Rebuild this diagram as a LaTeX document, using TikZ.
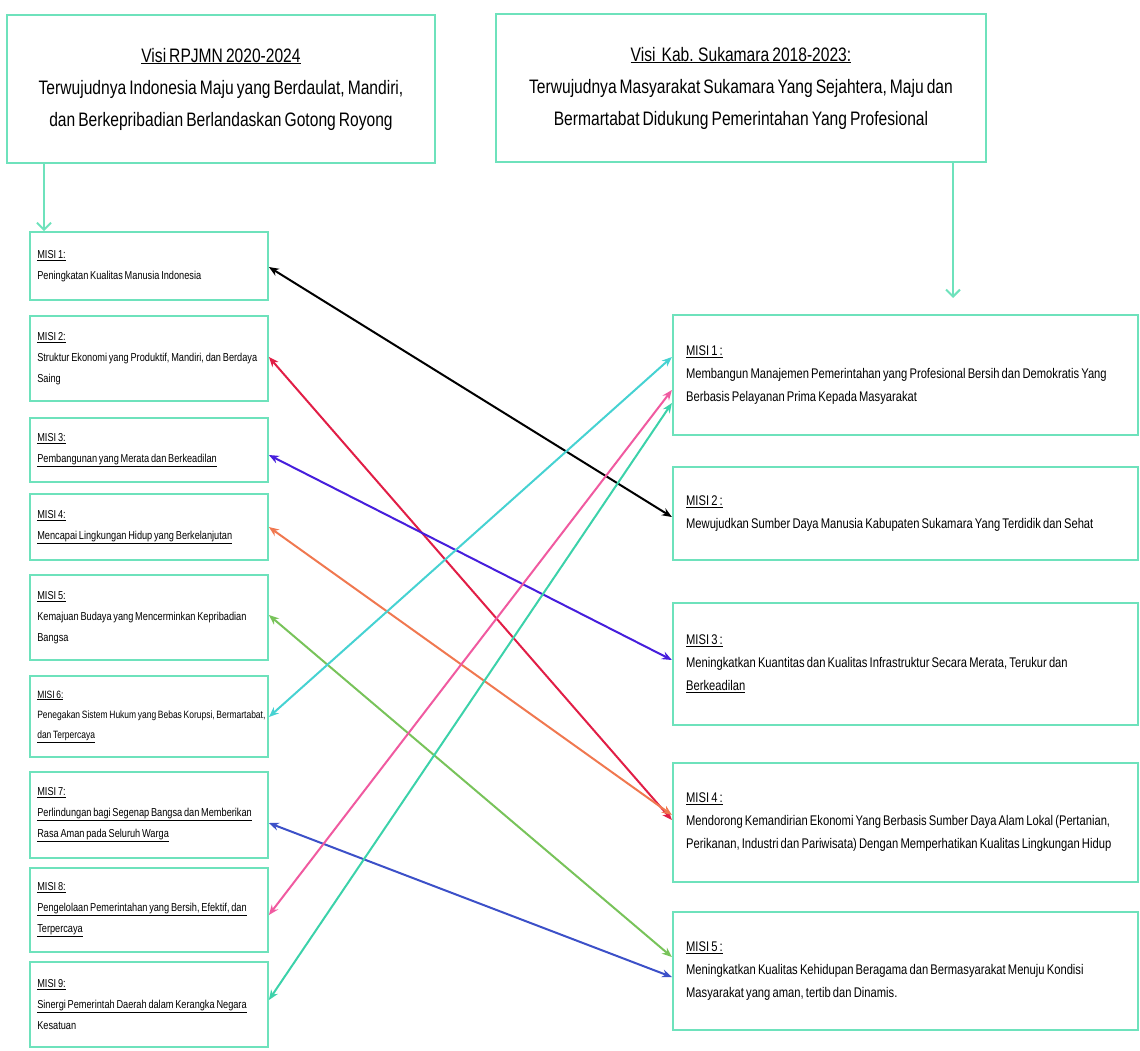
\documentclass[tikz,border=0pt]{standalone}
\usepackage{fontspec}
\setmainfont[FakeStretch=0.8, WordSpace=0.7]{Liberation Sans}
\usetikzlibrary{arrows.meta}

\definecolor{mint}{RGB}{110,226,188}
\definecolor{cRed}{RGB}{225,30,70}
\definecolor{cViolet}{RGB}{70,30,220}
\definecolor{cOrange}{RGB}{240,120,80}
\definecolor{cGreen}{RGB}{120,195,90}
\definecolor{cCyan}{RGB}{70,210,210}
\definecolor{cBlue}{RGB}{60,80,200}
\definecolor{cPink}{RGB}{240,90,160}
\definecolor{cTeal}{RGB}{60,210,170}

\tikzset{
  visibox/.style={draw=mint, line width=2.5pt, fill=white, align=center,
    minimum width=#1, minimum height=148pt,
    font=\fontsize{19.5}{32}\selectfont},
  leftbox/.style={draw=mint, line width=1.8pt, fill=white,
    minimum width=238pt, minimum height=#1},
  rightbox/.style={draw=mint, line width=2.2pt, fill=white,
    minimum width=465pt, minimum height=#1},
  lefttext/.style={anchor=west, align=left, inner sep=0pt, xshift=8pt,
    font=\fontsize{11.5}{21}\selectfont},
  righttext/.style={anchor=west, align=left, inner sep=0pt, xshift=14pt,
    font=\fontsize{14}{23}\selectfont},
  link/.style={{Stealth[length=10pt,width=8pt]}-{Stealth[length=10pt,width=8pt]},
    line width=2pt},
  feed/.style={-{Straight Barb[length=7pt,width=14pt]}, draw=mint, line width=2pt}
}

\begin{document}
\begin{tikzpicture}[x=1pt, y=-1pt]
\useasboundingbox (0,0) rectangle (1140,1050);

% vision boxes
\node[visibox=428pt] (TL) at (221,89)
  {\underline{Visi RPJMN 2020-2024}\\
   Terwujudnya Indonesia Maju yang Berdaulat, Mandiri,\\
   dan Berkepribadian Berlandaskan Gotong Royong};
\node[visibox=490pt] (TR) at (741,88)
  {\underline{Visi\ \ Kab. Sukamara 2018-2023:}\\
   Terwujudnya Masyarakat Sukamara Yang Sejahtera, Maju dan\\
   Bermartabat Didukung Pemerintahan Yang Profesional};

% national mission boxes
\node[leftbox=68pt] (L1) at (149,266) {};
\node[leftbox=85pt] (L2) at (149,358.5) {};
\node[leftbox=64pt] (L3) at (149,450) {};
\node[leftbox=66pt] (L4) at (149,527) {};
\node[leftbox=85pt] (L5) at (149,617.5) {};
\node[leftbox=81pt] (L6) at (149,716.5) {};
\node[leftbox=86pt] (L7) at (149,815) {};
\node[leftbox=84pt] (L8) at (149,910) {};
\node[leftbox=85pt] (L9) at (149,1004.5) {};

\node[lefttext] (L1t) at (L1.west)
  {\underline{MISI 1:}\\Peningkatan Kualitas Manusia Indonesia};
\node[lefttext] (L2t) at (L2.west)
  {\underline{MISI 2:}\\Struktur Ekonomi yang Produktif, Mandiri, dan Berdaya\\Saing};
\node[lefttext] (L3t) at (L3.west)
  {\underline{MISI 3:}\\\underline{Pembangunan yang Merata dan Berkeadilan}};
\node[lefttext] (L4t) at (L4.west)
  {\underline{MISI 4:}\\\underline{Mencapai Lingkungan Hidup yang Berkelanjutan}};
\node[lefttext] (L5t) at (L5.west)
  {\underline{MISI 5:}\\Kemajuan Budaya yang Mencerminkan Kepribadian\\Bangsa};
\node[lefttext, font=\fontsize{10.6}{20}\selectfont] (L6t) at (L6.west)
  {\underline{MISI 6:}\\Penegakan Sistem Hukum yang Bebas Korupsi, Bermartabat,\\\underline{dan Terpercaya}};
\node[lefttext] (L7t) at (L7.west)
  {\underline{MISI 7:}\\\underline{Perlindungan bagi Segenap Bangsa dan Memberikan}\\\underline{Rasa Aman pada Seluruh Warga}};
\node[lefttext] (L8t) at (L8.west)
  {\underline{MISI 8:}\\\underline{Pengelolaan Pemerintahan yang Bersih, Efektif, dan}\\\underline{Terpercaya}};
\node[lefttext] (L9t) at (L9.west)
  {\underline{MISI 9:}\\\underline{Sinergi Pemerintah Daerah dalam Kerangka Negara}\\Kesatuan};

% regency mission boxes
\node[rightbox=120pt] (R1) at (905.5,375) {};
\node[rightbox=93pt] (R2) at (905.5,513.5) {};
\node[rightbox=122pt] (R3) at (905.5,664) {};
\node[rightbox=119pt] (R4) at (905.5,822.5) {};
\node[rightbox=118pt] (R5) at (905.5,971) {};

\node[righttext] (R1t) at (R1.west)
  {\underline{MISI 1 :}\\Membangun Manajemen Pemerintahan yang Profesional Bersih dan Demokratis Yang\\Berbasis Pelayanan Prima Kepada Masyarakat};
\node[righttext] (R2t) at (R2.west)
  {\underline{MISI 2 :}\\Mewujudkan Sumber Daya Manusia Kabupaten Sukamara Yang Terdidik dan Sehat};
\node[righttext] (R3t) at (R3.west)
  {\underline{MISI 3 :}\\Meningkatkan Kuantitas dan Kualitas Infrastruktur Secara Merata, Terukur dan\\\underline{Berkeadilan}};
\node[righttext] (R4t) at (R4.west)
  {\underline{MISI 4 :}\\Mendorong Kemandirian Ekonomi Yang Berbasis Sumber Daya Alam Lokal (Pertanian,\\Perikanan, Industri dan Pariwisata) Dengan Memperhatikan Kualitas Lingkungan Hidup};
\node[righttext] (R5t) at (R5.west)
  {\underline{MISI 5 :}\\Meningkatkan Kualitas Kehidupan Beragama dan Bermasyarakat Menuju Kondisi\\Masyarakat yang aman, tertib dan Dinamis.};

% vision-to-mission feeds
\draw[feed] ([xshift=-177pt]TL.south) -- ([xshift=-177pt]TL.south |- L1.north);
\coordinate (Rtip) at (953,298);
\draw[feed] ([xshift=212pt]TR.south) -- (Rtip);

% mission links
\draw[link, color=black]   ([yshift=-1pt]L1.east)   -- ([yshift=-3.5pt]R2.west);
\draw[link, color=cRed]    ([yshift=1.5pt]L2.east)  -- ([yshift=2.5pt]R4.west);
\draw[link, color=cViolet] ([yshift=-5pt]L3.east)   -- ([yshift=4pt]R3.west);
\draw[link, color=cOrange] (L4.east)                -- ([yshift=7.5pt]R4.west);
\draw[link, color=cGreen]  ([yshift=2.5pt]L5.east)  -- ([yshift=14pt]R5.west);
\draw[link, color=cCyan]   ([yshift=-0.5pt]L6.east) -- ([yshift=18pt]R1.west);
\draw[link, color=cBlue]   ([yshift=-8pt]L7.east)   -- ([yshift=-6pt]R5.west);
\draw[link, color=cPink]   ([yshift=-5pt]L8.east)   -- ([yshift=-15pt]R1.west);
\draw[link, color=cTeal]   ([yshift=4.5pt]L9.east)  -- ([yshift=-28pt]R1.west);
\end{tikzpicture}
\end{document}
